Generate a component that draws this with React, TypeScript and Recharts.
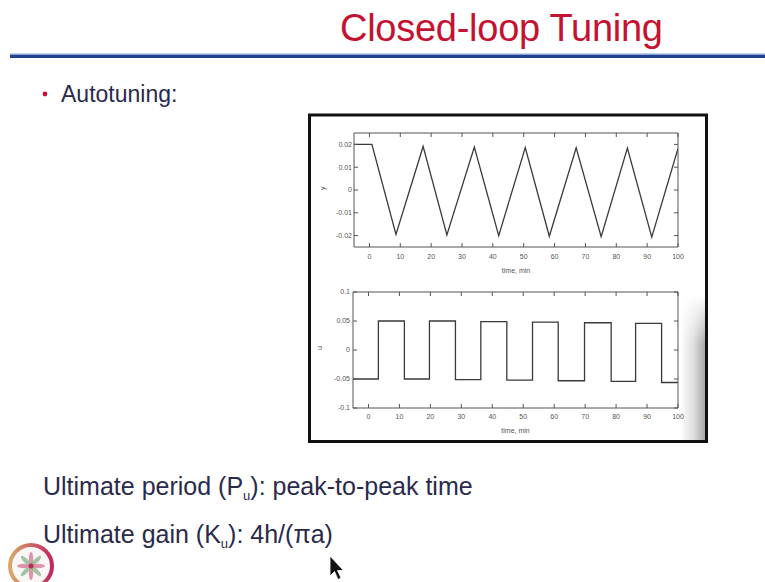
import React from 'react';
import { LineChart, Line, XAxis, YAxis, Label } from 'recharts';

// Process output y (relay-feedback oscillation)
const yTime = [-5, 0.8, 8.6, 17.4, 25.1, 34, 41.9, 50.5, 58.3, 67, 75.1, 83.6, 91.5, 100];
const yValues = [0.02, 0.02, -0.0195, 0.0191, -0.0197, 0.0188, -0.02, 0.0186, -0.0203, 0.0185, -0.0205, 0.0184, -0.0207, 0.0182];

// Relay output u (square wave, switching times)
const uTime = [-5, 3.2, 11.6, 19.7, 28.1, 36.3, 44.7, 53, 61.3, 69.8, 78.4, 86.3, 94.7, 100];
const uValues = [-0.05, 0.05, -0.05, 0.05, -0.051, 0.049, -0.052, 0.048, -0.053, 0.047, -0.054, 0.046, -0.056, -0.056];

const timeTicks = [0, 10, 20, 30, 40, 50, 60, 70, 80, 90, 100];
const yTicks = [-0.02, -0.01, 0, 0.01, 0.02];
const uTicks = [-0.1, -0.05, 0, 0.05, 0.1];

const yData = yTime.map((t, i) => ({ t, y: yValues[i] }));
const uData = uTime.map((t, i) => ({ t, u: uValues[i] }));

const FONT = '"Liberation Sans", Arial, Helvetica, sans-serif';
const TICK = { fontSize: 7, fill: '#555', fontFamily: FONT };
const AXIS = '#555';
const NoTick = () => <g />;

export default function App() {
  return (
    <div style={{ position: 'absolute', left: 0, top: 0, width: 765, height: 582, background: '#fff', overflow: 'hidden', fontFamily: FONT }}>
      <svg width={765} height={582} style={{ position: 'absolute', left: 0, top: 0 }}>
        <defs>
          <linearGradient id="ring" x1="0" y1="0" x2="1" y2="0">
            <stop offset="0" stopColor="#d9a86a" />
            <stop offset="1" stopColor="#c0285a" />
          </linearGradient>
        </defs>
        {/* title */}
        <text x={340} y={41} fontSize={38} fill="#c41230" fontFamily={FONT} textLength={323}>Closed-loop Tuning</text>
        <rect x={10} y={53.5} width={755} height={1.5} fill="#8aa3dc" />
        <rect x={10} y={55} width={755} height={3} fill="#22408e" />
        {/* bullet */}
        <circle cx={45} cy={94} r={2.4} fill="#c41230" />
        <text x={61} y={102} fontSize={23} fill="#2a2a4a" fontFamily={FONT}>Autotuning:</text>
        {/* frame */}
        <rect x={309.5} y={115} width={397} height={326.5} fill="#fff" stroke="#111" strokeWidth={3} />
        {/* bottom texts */}
        <text x={43} y={495} fontSize={25} fill="#2a2a4a" fontFamily={FONT}>
          Ultimate period (P<tspan fontSize={13} dy={5}>u</tspan><tspan dy={-5}>): peak-to-peak time</tspan>
        </text>
        <text x={43} y={543} fontSize={25} fill="#2a2a4a" fontFamily={FONT}>
          Ultimate gain (K<tspan fontSize={13} dy={5}>u</tspan><tspan dy={-5}>): 4h/(πa)</tspan>
        </text>
        {/* logo */}
        <g>
          <circle cx={31} cy={566} r={21} fill="#fbf6f6" stroke="url(#ring)" strokeWidth={4} />
          {[0, 1, 2, 3, 4, 5, 6, 7].map((k) => (
            <ellipse key={k} cx={31} cy={559} rx={2.2} ry={7} fill={k % 2 ? '#8cb88c' : '#d77a9a'} opacity={0.8} transform={`rotate(${k * 45} 31 566)`} />
          ))}
          <circle cx={31} cy={566} r={2.5} fill="#c0285a" />
        </g>
        {/* cursor */}
        <polygon points="330,556 330,576 334.5,571.5 338,579.5 341,578 337.5,570.5 343.5,570.5" fill="#111" stroke="#fff" strokeWidth={0.8} />
      </svg>

      <div style={{ position: 'absolute', left: 311, top: 117 }}>
        <LineChart width={393} height={160} data={yData} margin={{ top: 14, right: 24, left: 0, bottom: 0 }}>
          <XAxis xAxisId="b" dataKey="t" type="number" domain={[-5, 100]} ticks={timeTicks} allowDataOverflow
            height={30} tickSize={-4} tickMargin={11} stroke={AXIS} tick={TICK} interval={0}>
            <Label value="time, min" position="insideBottom" offset={4.5} fontSize={7} fill="#555" fontFamily={FONT} />
          </XAxis>
          <XAxis xAxisId="t" orientation="top" dataKey="t" type="number" domain={[-5, 100]} ticks={timeTicks} allowDataOverflow
            height={2} tickSize={-4} stroke={AXIS} tick={NoTick} interval={0} />
          <YAxis yAxisId="l" type="number" domain={[-0.025, 0.025]} ticks={yTicks} allowDataOverflow
            width={43} tickSize={-4} tickMargin={6} stroke={AXIS} tick={TICK} interval={0}>
            <Label value="y" angle={-90} position="insideLeft" offset={12} fontSize={7} fill="#555" fontFamily={FONT} />
          </YAxis>
          <YAxis yAxisId="r" orientation="right" type="number" domain={[-0.025, 0.025]} ticks={yTicks} allowDataOverflow
            width={2} tickSize={-4} stroke={AXIS} tick={NoTick} interval={0} />
          <Line xAxisId="b" yAxisId="l" dataKey="y" type="linear" dot={false} stroke="#3a3a3a" strokeWidth={1.3} isAnimationActive={false} />
        </LineChart>
      </div>

      <div style={{ position: 'absolute', left: 311, top: 276 }}>
        <LineChart width={393} height={163} data={uData} margin={{ top: 14, right: 24, left: 0, bottom: 0 }}>
          <XAxis xAxisId="b" dataKey="t" type="number" domain={[-5, 100]} ticks={timeTicks} allowDataOverflow
            height={31} tickSize={-4} tickMargin={10} stroke={AXIS} tick={TICK} interval={0}>
            <Label value="time, min" position="insideBottom" offset={6.5} fontSize={7} fill="#555" fontFamily={FONT} />
          </XAxis>
          <XAxis xAxisId="t" orientation="top" dataKey="t" type="number" domain={[-5, 100]} ticks={timeTicks} allowDataOverflow
            height={2} tickSize={-4} stroke={AXIS} tick={NoTick} interval={0} />
          <YAxis yAxisId="l" type="number" domain={[-0.1, 0.1]} ticks={uTicks} allowDataOverflow
            width={42} tickSize={-4} tickMargin={7} stroke={AXIS} tick={TICK} interval={0}>
            <Label value="u" angle={-90} position="insideLeft" offset={9} fontSize={7} fill="#555" fontFamily={FONT} />
          </YAxis>
          <YAxis yAxisId="r" orientation="right" type="number" domain={[-0.1, 0.1]} ticks={uTicks} allowDataOverflow
            width={2} tickSize={-4} stroke={AXIS} tick={NoTick} interval={0} />
          <Line xAxisId="b" yAxisId="l" dataKey="u" type="stepAfter" dot={false} stroke="#3a3a3a" strokeWidth={1.3} isAnimationActive={false} />
        </LineChart>
      </div>

      {/* scan shadow at the right edge of the figure */}
      <div style={{ position: 'absolute', left: 680, top: 295, width: 25, height: 145, pointerEvents: 'none',
        background: 'linear-gradient(to right, rgba(120,120,120,0) 0%, rgba(120,120,120,0.25) 55%, rgba(80,80,80,0.5) 100%)',
        WebkitMaskImage: 'linear-gradient(to bottom, transparent 0%, black 35%, black 100%)',
        maskImage: 'linear-gradient(to bottom, transparent 0%, black 35%, black 100%)' }} />
    </div>
  );
}
